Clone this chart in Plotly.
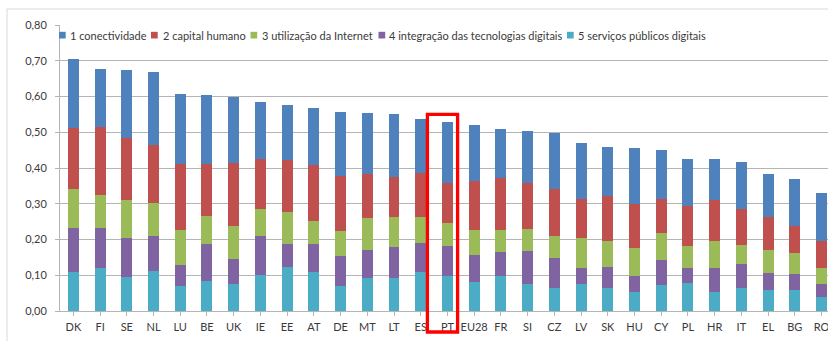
import plotly.graph_objects as go

# Country codes (EU DESI ranking)
countries = ["DK", "FI", "SE", "NL", "LU", "BE", "UK", "IE", "EE", "AT",
             "DE", "MT", "LT", "ES", "PT", "EU28", "FR", "SI", "CZ", "LV",
             "SK", "HU", "CY", "PL", "HR", "IT", "EL", "BG", "RO"]

# Dimension scores (stacked from bottom: 5, 4, 3, 2, 1)
servicos_publicos = [0.108, 0.120, 0.096, 0.113, 0.071, 0.085, 0.075, 0.100, 0.124, 0.109,
                     0.069, 0.092, 0.093, 0.108, 0.097, 0.080, 0.097, 0.076, 0.065, 0.076,
                     0.063, 0.052, 0.074, 0.077, 0.052, 0.065, 0.060, 0.058, 0.038]
integracao_tec = [0.125, 0.111, 0.107, 0.096, 0.059, 0.103, 0.071, 0.111, 0.064, 0.078,
                  0.085, 0.079, 0.087, 0.082, 0.084, 0.076, 0.067, 0.091, 0.082, 0.044,
                  0.059, 0.046, 0.068, 0.043, 0.069, 0.066, 0.047, 0.046, 0.038]
utilizacao_internet = [0.108, 0.094, 0.108, 0.092, 0.096, 0.079, 0.091, 0.073, 0.089, 0.066,
                       0.071, 0.089, 0.083, 0.072, 0.066, 0.071, 0.063, 0.061, 0.063, 0.083,
                       0.075, 0.078, 0.076, 0.062, 0.076, 0.055, 0.065, 0.057, 0.043]
capital_humano = [0.171, 0.190, 0.172, 0.163, 0.184, 0.143, 0.178, 0.140, 0.146, 0.155,
                  0.153, 0.123, 0.113, 0.125, 0.112, 0.136, 0.145, 0.131, 0.132, 0.109,
                  0.125, 0.123, 0.096, 0.111, 0.114, 0.099, 0.091, 0.077, 0.077]
conectividade = [0.192, 0.161, 0.190, 0.204, 0.196, 0.194, 0.185, 0.161, 0.154, 0.159,
                 0.178, 0.170, 0.176, 0.149, 0.169, 0.158, 0.138, 0.145, 0.157, 0.159,
                 0.136, 0.157, 0.137, 0.131, 0.113, 0.133, 0.120, 0.130, 0.135]

series = [
    ("5 serviços públicos digitais", servicos_publicos, "#4BACC6"),
    ("4 integração das tecnologias digitais", integracao_tec, "#8064A2"),
    ("3 utilização da Internet", utilizacao_internet, "#9BBB59"),
    ("2 capital humano", capital_humano, "#C0504D"),
    ("1 conectividade", conectividade, "#4F81BD"),
]
legend_order = [4, 3, 2, 1, 0]

highlight = "PT"

FONT = "Lato, 'Open Sans', sans-serif"
GRID = "#B4B4B4"
TEXT = "#3A3A3A"

fig = go.Figure()
idx = list(range(len(countries)))
for name, vals, color in series:
    fig.add_trace(go.Bar(
        x=idx, y=vals, name=name,
        marker=dict(color=color, line=dict(width=0)),
        showlegend=False,
    ))

W, H = 828, 341
L, T, B = 60, 25, 30
plot_w = W - L
plot_h = H - T - B
cat_px = 26.72
x_range = [-0.5, -0.5 + plot_w / cat_px]


def xp(px):
    return (px - L) / plot_w


def yp(py):
    return (H - B - py) / plot_h


def cat_paper(c):
    return (c - x_range[0]) / (x_range[1] - x_range[0])


shapes = []
annotations = []

# outer chart frame
shapes.append(dict(type="rect", xref="paper", yref="paper",
                   x0=xp(7), x1=xp(900), y0=yp(400), y1=yp(9),
                   line=dict(color="#D9D9D9", width=1), fillcolor="rgba(0,0,0,0)",
                   layer="below"))

# legend row drawn as colored squares + labels
legend_px = [(59, 68), (151, 161), (250.5, 260), (378.5, 387), (567, 576)]
for (sq_x, tx), k in zip(legend_px, legend_order):
    name, _, color = series[k]
    shapes.append(dict(type="rect", xref="paper", yref="paper",
                       x0=xp(sq_x), x1=xp(sq_x + 6.7), y0=yp(38.5), y1=yp(31.8),
                       fillcolor=color, line=dict(width=0), layer="above"))
    annotations.append(dict(xref="paper", yref="paper", x=xp(tx), y=yp(35.3),
                            xanchor="left", yanchor="middle", showarrow=False,
                            text=name, font=dict(family=FONT, size=11, color=TEXT)))

# highlight box around Portugal
hi = countries.index(highlight)
shapes.append(dict(type="rect", xref="paper", yref="paper",
                   x0=cat_paper(hi - 0.75), x1=cat_paper(hi + 0.38),
                   y0=yp(332), y1=yp(114.3),
                   line=dict(color="#FF0000", width=3.3), fillcolor="rgba(0,0,0,0)",
                   layer="above"))

fig.update_layout(
    width=W, height=H,
    margin=dict(l=L, r=0, t=T, b=B, autoexpand=False),
    barmode="stack",
    bargap=0.59,
    paper_bgcolor="white",
    plot_bgcolor="white",
    separators=", ",
    font=dict(family=FONT, size=11, color=TEXT),
    shapes=shapes,
    annotations=annotations,
    showlegend=False,
)
fig.update_xaxes(
    range=x_range,
    tickmode="array", tickvals=idx, ticktext=countries,
    tickson="boundaries", ticks="outside", ticklen=4, tickcolor=GRID,
    showline=True, linecolor=GRID, linewidth=1,
    showgrid=False, zeroline=False,
    tickfont=dict(family=FONT, size=11, color=TEXT),
    ticklabelstandoff=2,
    ticklabeloverflow="allow",
)
fig.update_yaxes(
    range=[0, 0.8], dtick=0.1, tickformat=".2f",
    ticks="outside", ticklen=4, tickcolor=GRID,
    showline=True, linecolor=GRID, linewidth=1,
    showgrid=True, gridcolor=GRID, gridwidth=1,
    zeroline=False,
    tickfont=dict(family=FONT, size=11, color=TEXT),
    ticklabelstandoff=6,
)

fig.write_html("out.html")
